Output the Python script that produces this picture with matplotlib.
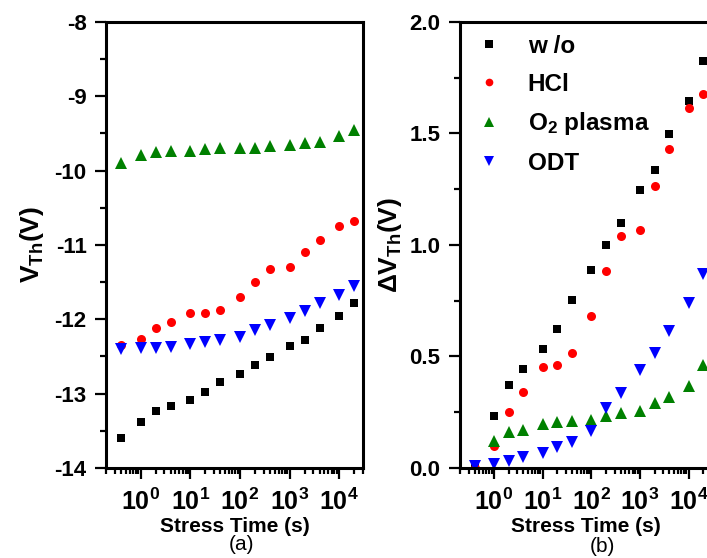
import numpy as np
import matplotlib
matplotlib.use("Agg")
import matplotlib.pyplot as plt
from matplotlib.ticker import FixedLocator, MultipleLocator, LogLocator, NullFormatter

plt.rcParams['font.family'] = ['Liberation Sans', 'DejaVu Sans']
plt.rcParams['mathtext.fontset'] = 'custom'
plt.rcParams['mathtext.rm'] = 'Liberation Sans'
plt.rcParams['mathtext.bf'] = 'Liberation Sans:bold'
plt.rcParams['mathtext.it'] = 'Liberation Sans:italic'

# stress times (s)
times = [0.4, 1, 2, 4, 10, 20, 40, 100, 200, 400, 1000, 2000, 4000, 10000, 20000]

# (a) threshold voltage V_Th (V)
vth_wo = [-13.60, -13.38, -13.23, -13.17, -13.08, -12.98, -12.84, -12.73, -12.61, -12.51,
          -12.36, -12.28, -12.12, -11.96, -11.78]
vth_hcl = [-12.35, -12.27, -12.12, -12.04, -11.92, -11.92, -11.87, -11.70, -11.50, -11.32,
           -11.30, -11.10, -10.93, -10.75, -10.68]
vth_o2 = [-9.90, -9.79, -9.75, -9.74, -9.73, -9.71, -9.70, -9.69, -9.69, -9.67,
          -9.65, -9.63, -9.61, -9.54, -9.45]
vth_odt = [-12.40, -12.38, -12.38, -12.37, -12.33, -12.30, -12.28, -12.24, -12.14, -12.07,
           -11.98, -11.89, -11.78, -11.67, -11.55]

# (b) threshold voltage shift dV_Th (V)
dvth_wo = [0.0, 0.235, 0.373, 0.445, 0.535, 0.623, 0.753, 0.886, 1.0, 1.10,
           1.245, 1.336, 1.497, 1.647, 1.825]
dvth_hcl = [0.0, 0.10, 0.253, 0.34, 0.454, 0.463, 0.515, 0.683, 0.882, 1.042,
            1.066, 1.264, 1.432, 1.616, 1.679]
dvth_o2 = [0.0, 0.123, 0.16, 0.172, 0.196, 0.205, 0.21, 0.214, 0.235, 0.245,
           0.255, 0.293, 0.317, 0.366, 0.46]
dvth_odt = [0.01, 0.02, 0.03, 0.05, 0.069, 0.093, 0.117, 0.165, 0.268, 0.335,
            0.44, 0.515, 0.615, 0.74, 0.87]

labels = ['w /o', 'HCl', r'O$_{\mathbf{2}}$ plasma', 'ODT']
colors = ['black', 'red', 'green', 'blue']
markers = ['s', 'o', '^', 'v']
sizes = [6, 6.5, 8, 8]

fig = plt.figure(figsize=(7.07, 5.58), dpi=100)
ax_a = fig.add_axes([0.1499, 0.1613, 0.3635, 0.7993])
ax_b = fig.add_axes([0.6506, 0.1613, 0.3564, 0.7993])


def style_axis(ax):
    ax.set_xscale('log')
    ax.set_xlim(0.2, 3e4)
    ax.xaxis.set_major_locator(FixedLocator([1, 10, 100, 1000, 10000]))
    ax.set_xticklabels([r'$\mathbf{10^{%d}}$' % k for k in range(5)])
    ax.xaxis.set_minor_locator(LogLocator(base=10, subs=np.arange(2, 10), numticks=20))
    ax.xaxis.set_minor_formatter(NullFormatter())
    for s in ax.spines.values():
        s.set_linewidth(2.2)
    ax.tick_params(which='both', direction='out', top=False, right=False, width=1.6)
    ax.tick_params(which='major', length=8, labelsize=16, pad=6)
    ax.tick_params(axis='x', which='major', labelsize=18, pad=7)
    ax.tick_params(which='minor', length=4)
    for t in ax.get_yticklabels():
        t.set_fontweight('bold')
    ax.set_xlabel('Stress Time (s)', fontsize=15, fontweight='bold', labelpad=1)


for y, c, m, ms, lab in zip([vth_wo, vth_hcl, vth_o2, vth_odt], colors, markers, sizes, labels):
    ax_a.plot(times, y, linestyle='none', marker=m, color=c, ms=ms, mew=0, label=lab)
ax_a.set_ylim(-14, -8)
ax_a.yaxis.set_major_locator(MultipleLocator(1))
ax_a.yaxis.set_minor_locator(MultipleLocator(0.5))
ax_a.yaxis.set_major_formatter(plt.FuncFormatter(lambda v, p: '%d' % v))
style_axis(ax_a)
ax_a.set_ylabel(r'V$_{\mathbf{Th}}$(V)', fontsize=19, fontweight='bold', labelpad=6)

for y, c, m, ms, lab in zip([dvth_wo, dvth_hcl, dvth_o2, dvth_odt], colors, markers, sizes, labels):
    ax_b.plot(times, y, linestyle='none', marker=m, color=c, ms=ms, mew=0, label=lab)
ax_b.set_ylim(0, 2.0)
ax_b.yaxis.set_major_locator(MultipleLocator(0.5))
ax_b.yaxis.set_minor_locator(MultipleLocator(0.25))
ax_b.yaxis.set_major_formatter(plt.FuncFormatter(lambda v, p: '%.1f' % v))
style_axis(ax_b)
ax_b.set_ylabel(r'ΔV$_{\mathbf{Th}}$(V)', fontsize=19, fontweight='bold', labelpad=4)

leg = ax_b.legend(loc='upper left', bbox_to_anchor=(-0.03, 1.02), frameon=False,
                  prop={'size': 17.5, 'weight': 'bold'}, handletextpad=1.0,
                  labelspacing=0.6, handlelength=1.2, markerscale=0.85)

fig.text(242 / 707, 1 - 545 / 558, '(a)', fontsize=15, ha='center', va='center')
fig.text(602 / 707, 1 - 546 / 558, '(b)', fontsize=15, ha='center', va='center')

fig.savefig('out.png', dpi=100)
